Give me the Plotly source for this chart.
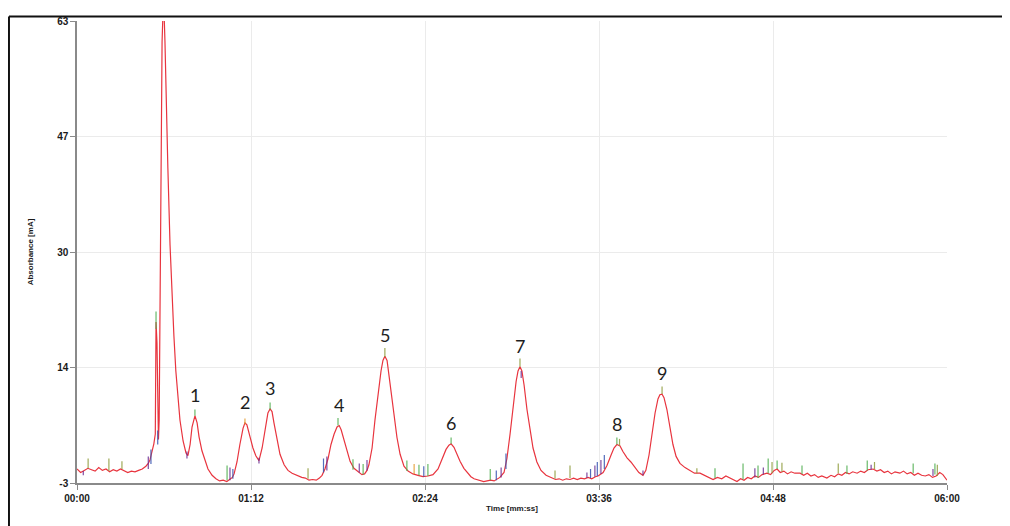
import plotly.graph_objects as go

# ---------------- data ----------------
# main (red) absorbance trace: time [s] and absorbance [mA]
time_s = [0, 1.5, 3, 4.5, 6, 7.5, 9, 10.5, 12, 13.5, 15, 16.5, 18, 19.5, 21, 22.5, 24, 25.5, 27, 28.5,
          29.5, 30.2, 31, 31.8, 32.4, 32.7, 33.1, 33.4, 33.7, 34.0, 34.4, 34.8, 35.2, 35.6, 36.0, 36.4,
          36.8, 37.2, 37.6, 38.5, 39.3, 40.1, 40.9, 41.8, 42.6, 43.9, 45.1, 45.9, 46.8, 47.6, 48.4, 48.8,
          49.7, 50.5, 51.7, 53, 54.2, 55.9, 57.5, 59, 60.5, 62, 63.3, 64.3, 65, 66.2, 67.4, 68.7, 69.5,
          70.3, 71.6, 72.8, 74, 75.3, 76.6, 77.8, 79, 79.9, 80.7, 81.5, 82.8, 84, 85.7, 87.3, 89, 91.4,
          93, 94.5, 96, 97.5, 99, 100.3, 101.4, 102.6, 103.9, 105.1, 106.4, 107.6, 108.5, 109.3, 110.5,
          111.7, 113, 114.6, 116.3, 117.9, 119, 120, 120.8, 122.1, 123.3, 124.6, 125.8, 126.6, 127.4,
          128.3, 129.1, 129.9, 131.2, 132.4, 133.7, 135.3, 137, 139, 141.1, 143.2, 145.2, 147.3, 149.4,
          151, 152.7, 153.9, 154.8, 156, 157.2, 158.5, 160.1, 161.8, 163, 164.3, 166.8, 168.3, 169.7,
          171.2, 172.6, 174, 175, 176.7, 177.9, 179.2, 180.4, 181.7, 182.5, 183.3, 184.1, 185, 186.2,
          187.4, 188.7, 190.3, 192, 194.1, 196.6, 198, 199.5, 201, 202.5, 204, 205.5, 207, 208.5, 210,
          211.5, 213, 214.5, 215.6, 217.7, 219.3, 221, 222.2, 223.4, 224.7, 225.9, 227.6, 229.2, 230.9,
          232.5, 234.2, 235.4, 236.7, 237.9, 239.2, 240.4, 241.2, 242.1, 242.9, 244.1, 245.4, 246.6,
          247.9, 249.5, 251.6, 253.7, 255.5, 257.8, 259.5, 261, 263.2, 265, 266.8, 268.5, 270, 271.5,
          273.1, 274.6, 276, 277.5, 279, 280.5, 282, 283.5, 285.5, 287, 288.5, 289.7, 291, 292.5, 294,
          295.5, 297, 299.2, 300.7, 302.2, 303.7, 305.2, 306.7, 308.2, 310.3, 312, 313.5, 315, 316.5,
          318, 319.5, 321, 322.8, 324.3, 325.8, 327.3, 329.4, 331, 332.5, 334, 335.5, 337, 338.5, 340.5,
          342, 343.5, 345, 346.5, 348, 349.5, 351, 352.5, 354, 355.5, 357, 358.3, 359.2, 360]
absorbance = [-1.0, -1.5, -1.2, -0.9, -1.1, -1.3, -0.8, -1.2, -1.0, -1.4, -1.1, -1.3, -1.0, -1.2, -1.5,
              -1.3, -1.4, -1.2, -1.0, -0.6,
              -0.2, 0.3, 1.5, 2.6, 4, 20, 17, 6, 3.2, 6, 30, 48, 60, 64.5, 64.5, 60,
              53, 47, 42, 31, 24, 18, 13, 9, 6, 3, 1.3, 0.9, 2.5, 5, 6.3, 6.6,
              5.6, 3.6, 1.6, 0.1, -1, -1.9, -2.4, -2.7, -2.6, -2.8, -2.5, -2.2, -1.7, 0, 2.5, 4.8, 5.6,
              5.3, 3.6, 2, 0.9, 0.2, 2, 4.5, 7, 7.6, 7.2, 5.6, 3, 1.1, -0.4, -1.2, -1.6, -2.0,
              -2.2, -2.3, -2.6, -2.5, -2.6, -2.3, -1.9, -1, 0.5, 2.5, 4, 5, 5.2, 4.6, 3.1,
              1.6, 0.1, -0.9, -1.4, -1.8, -1.7, -1.2, -0.4, 2, 6, 10, 13, 14.5, 15.1,
              14.5, 12.5, 10, 6.5, 3.5, 1.1, -0.6, -1.3, -1.7, -1.9, -2.1, -2.0, -1.8, -1,
              0.5, 1.8, 2.4, 2.6, 2.1, 1.1, 0.1, -0.9, -1.7, -2.1, -2.4, -2.6, -2.8, -2.7,
              -2.6, -2.7, -2.4, -2.2, -1.5, 0.5, 4, 8, 11.5, 13, 13.6, 13, 11, 7.5,
              4.5, 2, 0, -1.2, -1.9, -2.3, -2.5, -2.4, -2.6, -2.4, -2.5, -2.3, -2.5, -2.3, -2.4,
              -2.2, -2.4, -2.1, -2.0, -1.5, -0.5, 1, 2, 2.5, 2.3, 1.5, 0.6, 0, -0.8,
              -1.5, -1.9, -1.2, 1, 4, 7, 9, 9.6, 9.7, 9.2, 7.5, 5, 2.5,
              0.8, -0.2, -0.8, -1.3, -1.6, -1.6, -1.9, -2.2, -2.5, -2.2, -2.4, -2.0, -2.3, -2.6,
              -2.8, -2.4, -2.6, -2.2, -2.4, -2.0, -2.2, -1.8, -1.6, -1.8, -1.2, -1.0, -1.5, -1.3, -1.7,
              -1.4, -1.6, -1.6, -1.9, -1.6, -2.0, -1.8, -2.2, -2.0, -2.3, -1.9, -2.1, -1.7, -1.9,
              -1.5, -1.7, -1.4, -1.6, -1.3, -1.5, -1.1, -1.0, -1.3, -1.1, -1.5, -1.3, -1.7, -1.4, -1.6,
              -1.3, -1.7, -1.5, -1.9, -1.6, -1.9, -2.0, -1.8, -2.2, -2.0, -1.5, -1.8, -2.3, -2.6]

# small detector spikes of the other channels: time, base, top, channel colour
spike_time = [4.6, 13.2, 18.6, 2.6, 29.5, 30.6, 33.4, 32.7, 45.5, 48.8, 62.1, 63.3, 64.5, 69.5, 75.3,
              79.9, 95.6, 102.0, 103.4, 108.0, 114.2, 116.8, 118.4, 120.0, 127.4, 136.5, 139.5, 141.5,
              143.5, 145.2, 154.8, 171.0, 173.5, 175.5, 177.5, 183.3, 183.8, 197.8, 204.0, 211.0, 212.5,
              214.3, 215.3, 216.8, 218.2, 223.4, 224.5, 234.2, 242.1, 256.5, 264.0, 275.6, 280.5, 281.8,
              284.0, 286.0, 287.6, 289.7, 291.7, 300.0, 315.0, 318.6, 327.0, 328.6, 330.0, 346.0, 355.0,
              356.0, 354.2]
spike_base = [-0.9, -1.3, -1.0, -1.3, -1.0, -0.3, 2.5, 19.0, 0.5, 6.6, -2.6, -2.6, -2.4, 5.4, -0.2,
              7.5, -2.4, -1.5, -1.2, 5.2, -1.1, -1.5, -1.8, -1.2, 15.0, -1.3, -1.7, -1.9,
              -2.1, -2.0, 2.6, -2.6, -2.6, -2.2, -1.0, 13.6, 12.0, -2.4, -2.3, -2.3, -2.3,
              -2.1, -2.0, -1.7, -1.0, 2.5, 2.3, -1.9, 9.7, -1.6, -2.3, -2.5, -2.2, -2.3,
              -1.8, -1.6, -1.6, -1.0, -1.4, -1.7, -1.6, -1.7, -1.2, -1.1, -1.0, -1.6, -1.8,
              -2.0, -2.0]
spike_top = [0.5, 0.5, 0.1, -1.9, 0.8, 1.8, 4.5, 21.5, 1.5, 7.5, -0.5, -0.8, -1.0, 6.2, 0.6,
             8.5, -0.9, 0.5, 0.8, 6.3, 0.4, -0.2, -0.3, 0.3, 16.3, 0.2, -0.3, -0.4,
             -0.6, -0.3, 3.5, -1.0, -1.2, -0.8, 1.2, 14.8, 13.0, -1.2, -0.5, -1.5, -1.0,
             -0.5, 0.0, 0.3, 1.0, 3.5, 3.3, -1.2, 10.8, -0.9, -0.9, -0.2, -0.9, -0.5,
             -0.8, 0.5, 0.0, 0.2, -0.1, -0.5, -0.2, -0.5, 0.2, -0.4, 0.0, -0.2, -0.2,
             -0.4, -1.0]
spike_channel = ["olive", "olive", "olive", "purple", "purple", "blue", "blue", "green", "purple", "green",
                 "green", "purple", "blue", "orange", "purple",
                 "green", "olive", "blue", "purple", "green", "green", "purple", "green", "purple", "olive",
                 "green", "orange", "green",
                 "blue", "green", "green", "green", "blue", "purple", "blue", "olive", "purple", "olive",
                 "olive", "purple", "blue",
                 "purple", "blue", "purple", "blue", "green", "olive", "purple", "olive", "olive", "green",
                 "green", "purple", "green",
                 "purple", "green", "olive", "green", "olive", "green", "olive", "green", "green", "purple",
                 "olive", "green", "green", "olive", "purple"]

# numbered peaks
peak_label = ["1", "2", "3", "4", "5", "6", "7", "8", "9"]
peak_time = [48.8, 69.5, 79.9, 108.5, 127.4, 154.8, 183.3, 223.4, 242.1]
peak_height = [6.6, 5.6, 7.6, 5.2, 15.1, 2.6, 13.6, 2.5, 9.7]

# axis ticks
x_tick_vals = [0, 72, 144, 216, 288, 360]
x_tick_text = ["00:00", "01:12", "02:24", "03:36", "04:48", "06:00"]
y_tick_vals = [-3, 13.5, 30, 46.5, 63]
y_tick_text = ["-3", "14", "30", "47", "63"]

# ---------------- figure ----------------
channel_colors = {"olive": "#8f9c3c", "green": "#4fae4f", "purple": "#6b2d92",
                  "blue": "#3552b0", "orange": "#e39a2d"}

fig = go.Figure()

fig.add_trace(go.Scatter(x=time_s, y=absorbance, mode="lines",
                         line=dict(color="#e8343e", width=1.2), showlegend=False))

for ch, col in channel_colors.items():
    xs, ys = [], []
    for t, b, tp, c in zip(spike_time, spike_base, spike_top, spike_channel):
        if c == ch:
            xs += [t, t, None]
            ys += [b, tp, None]
    fig.add_trace(go.Scatter(x=xs, y=ys, mode="lines", line=dict(color=col, width=1.2),
                             opacity=0.85, showlegend=False, hoverinfo="skip"))

for lbl, t, h in zip(peak_label, peak_time, peak_height):
    fig.add_annotation(x=t, y=h, text=lbl, showarrow=False, yshift=21,
                       font=dict(family="Lato, Open Sans, sans-serif", size=18, color="#1e1e1e"))

tick_font = dict(family="Liberation Sans, Arial, sans-serif", size=10, color="#1a1a1a", weight="bold")

fig.update_layout(
    width=1010, height=526,
    margin=dict(l=69, r=71, t=7, b=51),
    paper_bgcolor="white", plot_bgcolor="white",
    xaxis=dict(range=[0, 360], tickvals=x_tick_vals, ticktext=x_tick_text,
               showgrid=True, gridcolor="#ebebeb", gridwidth=1, zeroline=False,
               showline=True, linecolor="#8a8a8a", linewidth=1.5,
               ticks="outside", ticklen=5, tickcolor="#8a8a8a", tickfont=tick_font,
               title=dict(text="Time [mm:ss]", standoff=3,
                          font=dict(family="Liberation Sans, Arial, sans-serif", size=8,
                                    color="#1a1a1a", weight="bold"))),
    yaxis=dict(range=[-3, 63], tickvals=y_tick_vals, ticktext=y_tick_text,
               showgrid=True, gridcolor="#ebebeb", gridwidth=1, zeroline=False,
               showline=True, linecolor="#8a8a8a", linewidth=1.5,
               ticks="outside", ticklen=5, tickcolor="#8a8a8a", tickfont=tick_font,
               title=dict(text="Absorbance [mA]", standoff=22,
                          font=dict(family="Liberation Sans, Arial, sans-serif", size=8,
                                    color="#1a1a1a", weight="bold"))),
    shapes=[
        dict(type="line", xref="paper", yref="paper", x0=-0.0782, x1=-0.0782, y0=-0.2, y1=1.0096,
             line=dict(color="#111111", width=2)),
        dict(type="line", xref="paper", yref="paper", x0=-0.0782, x1=1.2, y0=1.0096, y1=1.0096,
             line=dict(color="#111111", width=2)),
    ],
)

fig.write_html("out.html", config={"displayModeBar": False})
